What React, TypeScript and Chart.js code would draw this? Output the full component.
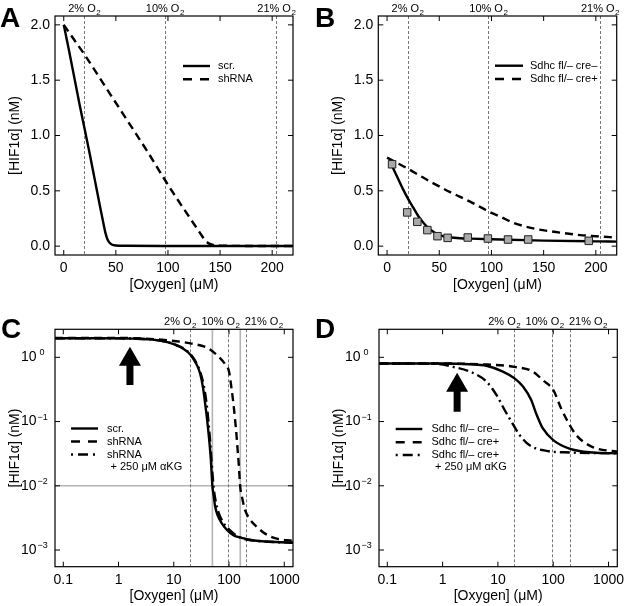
import React, { useEffect, useRef } from 'react';
import { Chart, registerables } from 'chart.js';
Chart.register(...registerables);

const FONT = '"Liberation Sans", Arial, Helvetica, sans-serif';

// ---------- shared ticks / labels ----------
const LIN_X_TICKS = [0, 50, 100, 150, 200];
const LIN_Y_TICKS = [0, 0.5, 1.0, 1.5, 2.0];
const LIN_Y_TICK_LABELS = ['0.0', '0.5', '1.0', '1.5', '2.0'];
const LOG_X_TICKS = [0.1, 1, 10, 100, 1000];
const LOG_X_TICK_LABELS = ['0.1', '1', '10', '100', '1000'];
const LOG_Y_TICKS = [1, 0.1, 0.01, 0.001];
const LOG_Y_EXPONENTS = ['0', '−1', '−2', '−3'];
const O2_LEVELS_UM = [19.6, 97, 204];
const O2_LABELS = ['2%', '10%', '21%'];
const O2_LABEL_ANCHORS_LOG = [13, 70, 425];
const X_TITLE = '[Oxygen] (μM)';
const Y_TITLE = '[HIF1α] (nM)';

// ---------- panel A ----------
const A_SCR_X = [0, 5, 10, 15, 20, 25, 30, 35, 38, 40, 42, 44, 46, 50, 60, 100, 220];
const A_SCR_Y = [2.0, 1.77, 1.53, 1.29, 1.06, 0.83, 0.59, 0.35, 0.21, 0.12, 0.06, 0.03, 0.015, 0.006, 0.003, 0.0015, 0.001];
const A_SH_X = [0, 10, 20, 40, 60, 80, 97, 110, 120, 130, 136, 140, 145, 150, 160, 200, 220];
const A_SH_Y = [2.0, 1.865, 1.73, 1.44, 1.15, 0.86, 0.6, 0.41, 0.27, 0.13, 0.05, 0.02, 0.008, 0.005, 0.003, 0.0015, 0.0012];

// ---------- panel B ----------
const B_EXP_X = [4.8, 19.3, 29, 38.6, 48.3, 58, 77.3, 96.6, 115.9, 135.2, 193.2];
const B_EXP_Y = [0.74, 0.305, 0.22, 0.145, 0.09, 0.075, 0.078, 0.069, 0.06, 0.06, 0.048];
const B_NEG_X = [5, 10, 15, 20, 25, 30, 35, 40, 45, 50, 55, 60, 70, 80, 100, 150, 200, 220];
const B_NEG_Y = [0.72, 0.62, 0.52, 0.43, 0.35, 0.27, 0.21, 0.16, 0.125, 0.1, 0.088, 0.08, 0.072, 0.068, 0.062, 0.05, 0.043, 0.041];
const B_POS_X = [0, 10, 20, 30, 40, 50, 60, 70, 80, 90, 100, 110, 120, 140, 160, 185, 200, 220];
const B_POS_Y = [0.8, 0.75, 0.7, 0.645, 0.59, 0.54, 0.49, 0.445, 0.4, 0.35, 0.3, 0.26, 0.215, 0.16, 0.13, 0.1, 0.09, 0.078];

// ---------- panel C ----------
const C_SCR_X = [0.0708, 0.3, 1, 2, 3.7, 6, 10, 15, 20, 25, 30, 34, 37, 40, 42, 45, 47, 50, 53, 56, 62, 74, 90, 120, 170, 240, 400, 700, 1440];
const C_SCR_Y = [1.98, 1.98, 1.97, 1.95, 1.9, 1.8, 1.6, 1.35, 1.1, 0.82, 0.56, 0.33, 0.19, 0.11, 0.074, 0.04, 0.025, 0.01, 0.0068, 0.0048, 0.0035, 0.0026, 0.0021, 0.0017, 0.00155, 0.00143, 0.00137, 0.00133, 0.0013];
const C_SH_X = [0.0708, 1, 3, 7.5, 20, 42, 65, 85, 100, 112, 122, 129, 136, 142, 150, 159, 175, 195, 240, 318, 450, 735, 1440];
const C_SH_Y = [2.0, 2.0, 1.96, 1.84, 1.65, 1.38, 1.02, 0.78, 0.6, 0.31, 0.17, 0.105, 0.065, 0.04, 0.022, 0.01, 0.0062, 0.0042, 0.003, 0.0023, 0.0018, 0.0015, 0.00139];
const C_AKG_X = [0.0708, 1, 3.7, 10, 20, 30, 35, 39, 42, 44, 47, 50, 53, 58, 65, 78, 100, 150, 300, 1440];
const C_AKG_Y = [1.98, 1.97, 1.9, 1.6, 1.12, 0.6, 0.36, 0.2, 0.11, 0.07, 0.035, 0.016, 0.009, 0.0055, 0.0038, 0.0027, 0.0021, 0.0016, 0.0014, 0.0013];

// ---------- panel D ----------
const D_NEG_X = [0.0708, 1, 3, 6.2, 12.3, 20, 28.4, 40, 49, 65, 100, 196, 517, 1440];
const D_NEG_Y = [0.8, 0.8, 0.78, 0.74, 0.6, 0.47, 0.35, 0.216, 0.134, 0.078, 0.0515, 0.038, 0.033, 0.032];
const D_POS_X = [0.0708, 1, 5, 20, 43, 65, 100, 139, 183, 259, 517, 1440];
const D_POS_Y = [0.8, 0.8, 0.78, 0.71, 0.6, 0.44, 0.31, 0.16, 0.1, 0.062, 0.04, 0.034];
const D_AKG_X = [0.0708, 0.8, 1.55, 3.1, 6.2, 9.4, 13.3, 17.5, 24.6, 37, 75, 200, 1440];
const D_AKG_Y = [0.8, 0.79, 0.71, 0.6, 0.42, 0.26, 0.15, 0.1, 0.062, 0.043, 0.035, 0.033, 0.032];

type Style = 'solid' | 'dash' | 'dashdot';
type Series = { label: string; x: number[]; y: number[]; style: Style };
type Panel = {
  letter: string;
  box: { left: number; top: number; w: number; h: number };
  pad: { left: number; top: number; right: number; bottom: number };
  letterPos: { x: number; y: number };
  log: boolean;
  xRange: [number, number];
  yRange: [number, number];
  series: Series[];
  squares?: { x: number[]; y: number[] };
  legend: { x0: number; x1: number; tx: number; rows: number[] };
  topAnchors: number[];
  arrow?: { x: number; tip: number; tail: number };
  grayV?: number[];
  grayH?: number[];
};

const LIN_X: [number, number] = [-8.4, 220];
const LIN_Y: [number, number] = [-0.08, 2.08];
const LOG_X: [number, number] = [0.0708, 1440];
const LOG_Y: [number, number] = [0.00055, 2.73];

const PANELS: Panel[] = [
  {
    letter: 'A', box: { left: 0, top: 0, w: 313, h: 300 },
    pad: { left: 55, top: 16, right: 20, bottom: 45 }, letterPos: { x: 0, y: 27 },
    log: false, xRange: LIN_X, yRange: LIN_Y,
    series: [
      { label: 'scr.', x: A_SCR_X, y: A_SCR_Y, style: 'solid' },
      { label: 'shRNA', x: A_SH_X, y: A_SH_Y, style: 'dash' },
    ],
    legend: { x0: 128, x1: 155, tx: 163, rows: [50, 63.3] },
    topAnchors: O2_LEVELS_UM,
  },
  {
    letter: 'B', box: { left: 313, top: 0, w: 314, h: 300 },
    pad: { left: 65.3, top: 16, right: 10.3, bottom: 45 }, letterPos: { x: 2, y: 27 },
    log: false, xRange: LIN_X, yRange: LIN_Y,
    series: [
      { label: 'Sdhc fl/– cre–', x: B_NEG_X, y: B_NEG_Y, style: 'solid' },
      { label: 'Sdhc fl/– cre+', x: B_POS_X, y: B_POS_Y, style: 'dash' },
    ],
    squares: { x: B_EXP_X, y: B_EXP_Y },
    legend: { x0: 116.7, x1: 144.7, tx: 151.7, rows: [49.7, 63] },
    topAnchors: O2_LEVELS_UM,
  },
  {
    letter: 'C', box: { left: 0, top: 300, w: 313, h: 306 },
    pad: { left: 55, top: 29.3, right: 20, bottom: 39.3 }, letterPos: { x: 1, y: 38 },
    log: true, xRange: LOG_X, yRange: LOG_Y,
    series: [
      { label: 'scr.', x: C_SCR_X, y: C_SCR_Y, style: 'solid' },
      { label: 'shRNA', x: C_SH_X, y: C_SH_Y, style: 'dash' },
      { label: 'shRNA\n+ 250 μM αKG', x: C_AKG_X, y: C_AKG_Y, style: 'dashdot' },
    ],
    legend: { x0: 16, x1: 43, tx: 52, rows: [99.2, 112.2, 125.2] },
    topAnchors: O2_LABEL_ANCHORS_LOG,
    arrow: { x: 1.61, tip: 1.46, tail: 0.37 },
    grayV: [50, 160],
    grayH: [0.01],
  },
  {
    letter: 'D', box: { left: 313, top: 300, w: 314, h: 306 },
    pad: { left: 66, top: 29.3, right: 9.7, bottom: 39.3 }, letterPos: { x: 2, y: 38 },
    log: true, xRange: LOG_X, yRange: LOG_Y,
    series: [
      { label: 'Sdhc fl/– cre–', x: D_NEG_X, y: D_NEG_Y, style: 'solid' },
      { label: 'Sdhc fl/– cre+', x: D_POS_X, y: D_POS_Y, style: 'dash' },
      { label: 'Sdhc fl/– cre+\n+ 250 μM αKG', x: D_AKG_X, y: D_AKG_Y, style: 'dashdot' },
    ],
    legend: { x0: 16.7, x1: 43.3, tx: 52.5, rows: [99.7, 113, 125.7] },
    topAnchors: O2_LABEL_ANCHORS_LOG,
    arrow: { x: 1.83, tip: 0.575, tail: 0.142 },
  },
];

const LINE_W = 2.4;
function dashFor(s: Style): number[] {
  if (s === 'dash') return [8, 5];
  if (s === 'dashdot') return [10, 4, 2, 4];
  return [];
}
function legendDash(s: Style): number[] {
  if (s === 'dash') return [9, 8];
  if (s === 'dashdot') return [2, 5, 10, 5];
  return [];
}

function seg(ctx: CanvasRenderingContext2D, x0: number, y0: number, x1: number, y1: number) {
  ctx.beginPath();
  ctx.moveTo(x0, y0);
  ctx.lineTo(x1, y1);
  ctx.stroke();
}

function makeDecor(p: Panel) {
  return {
    id: 'decor' + p.letter,
    beforeDatasetsDraw(chart: any) {
      const { ctx, chartArea: a, scales } = chart;
      const xs = scales.x;
      const ys = scales.y;
      ctx.save();
      ctx.beginPath();
      ctx.rect(a.left, a.top, a.right - a.left, a.bottom - a.top);
      ctx.clip();
      ctx.strokeStyle = '#b4b4b4';
      ctx.lineWidth = 1.6;
      ctx.setLineDash([]);
      (p.grayV || []).forEach((v) => {
        const x = xs.getPixelForValue(v);
        seg(ctx, x, a.top, x, a.bottom);
      });
      (p.grayH || []).forEach((v) => {
        const y = ys.getPixelForValue(v);
        seg(ctx, a.left, y, a.right, y);
      });
      ctx.strokeStyle = '#555';
      ctx.lineWidth = 0.8;
      ctx.setLineDash([3, 2]);
      O2_LEVELS_UM.forEach((v) => {
        const x = Math.round(xs.getPixelForValue(v)) + 0.5;
        seg(ctx, x, a.top, x, a.bottom);
      });
      ctx.restore();
    },
    afterDatasetsDraw(chart: any) {
      const { ctx, chartArea: a, scales } = chart;
      const xs = scales.x;
      const ys = scales.y;
      ctx.save();
      ctx.fillStyle = '#000';
      ctx.strokeStyle = '#000';
      ctx.setLineDash([]);

      // arrow
      if (p.arrow) {
        const ax = xs.getPixelForValue(p.arrow.x);
        const ty = ys.getPixelForValue(p.arrow.tip);
        const by = ys.getPixelForValue(p.arrow.tail);
        const hl = 19, hw = 11, sw = 3.5;
        ctx.beginPath();
        ctx.moveTo(ax, ty);
        ctx.lineTo(ax + hw, ty + hl);
        ctx.lineTo(ax + sw, ty + hl);
        ctx.lineTo(ax + sw, by);
        ctx.lineTo(ax - sw, by);
        ctx.lineTo(ax - sw, ty + hl);
        ctx.lineTo(ax - hw, ty + hl);
        ctx.closePath();
        ctx.fill();
      }

      // frame
      ctx.lineWidth = 1.2;
      ctx.strokeRect(a.left, a.top, a.right - a.left, a.bottom - a.top);

      // ticks (inward, mirrored)
      const xT = p.log ? LOG_X_TICKS : LIN_X_TICKS;
      const yT = p.log ? LOG_Y_TICKS : LIN_Y_TICKS;
      const TL = 5;
      ctx.lineWidth = 1;
      xT.forEach((v) => {
        const x = xs.getPixelForValue(v);
        seg(ctx, x, a.bottom, x, a.bottom - TL);
        seg(ctx, x, a.top, x, a.top + TL);
      });
      yT.forEach((v) => {
        const y = ys.getPixelForValue(v);
        seg(ctx, a.left, y, a.left + TL, y);
        seg(ctx, a.right, y, a.right - TL, y);
      });

      // x tick labels
      ctx.font = `14px ${FONT}`;
      ctx.textAlign = 'center';
      ctx.textBaseline = 'alphabetic';
      const xl = p.log ? LOG_X_TICK_LABELS : LIN_X_TICKS.map(String);
      xT.forEach((v, i) => {
        ctx.fillText(xl[i], xs.getPixelForValue(v), a.bottom + 17);
      });

      // y tick labels
      if (!p.log) {
        ctx.textAlign = 'right';
        ctx.textBaseline = 'middle';
        LIN_Y_TICKS.forEach((v, i) => {
          ctx.fillText(LIN_Y_TICK_LABELS[i], a.left - 5, ys.getPixelForValue(v));
        });
      } else {
        LOG_Y_TICKS.forEach((v, i) => {
          const y = ys.getPixelForValue(v);
          const x0 = a.left - 34;
          ctx.font = `14px ${FONT}`;
          ctx.textAlign = 'left';
          ctx.textBaseline = 'middle';
          ctx.fillText('10', x0, y);
          const w = ctx.measureText('10').width;
          ctx.font = `9px ${FONT}`;
          ctx.textBaseline = 'alphabetic';
          const exp = LOG_Y_EXPONENTS[i];
          ctx.fillText(exp, x0 + w + (exp.length === 1 ? 3 : 1), y - 2);
        });
      }

      // axis titles
      ctx.font = `14px ${FONT}`;
      ctx.textAlign = 'center';
      ctx.textBaseline = 'alphabetic';
      ctx.fillText(X_TITLE, (a.left + a.right) / 2, a.bottom + 33.5);
      ctx.save();
      ctx.translate(a.left - 40, (a.top + a.bottom) / 2);
      ctx.rotate(-Math.PI / 2);
      ctx.textBaseline = 'middle';
      ctx.fillText(Y_TITLE, 0, 0);
      ctx.restore();

      // top O2 labels
      p.topAnchors.forEach((v, i) => {
        const cx = xs.getPixelForValue(v);
        const main = `${O2_LABELS[i]} O`;
        ctx.font = `11px ${FONT}`;
        const w1 = ctx.measureText(main).width;
        ctx.font = `8px ${FONT}`;
        const w2 = ctx.measureText('2').width;
        const sx = cx - (w1 + w2) / 2;
        ctx.textAlign = 'left';
        ctx.textBaseline = 'alphabetic';
        ctx.font = `11px ${FONT}`;
        ctx.fillText(main, sx, a.top - 4);
        ctx.font = `8px ${FONT}`;
        ctx.fillText('2', sx + w1 + 0.5, a.top - 1.5);
      });

      // legend
      ctx.font = `11px ${FONT}`;
      ctx.textAlign = 'left';
      ctx.textBaseline = 'middle';
      p.series.forEach((s, i) => {
        const y = a.top + p.legend.rows[i];
        ctx.save();
        ctx.lineWidth = LINE_W;
        ctx.setLineDash(legendDash(s.style));
        seg(ctx, a.left + p.legend.x0, y, a.left + p.legend.x1, y);
        ctx.restore();
        const parts = s.label.split('\n');
        ctx.fillText(parts[0], a.left + p.legend.tx, y);
        if (parts[1]) ctx.fillText(parts[1], a.left + p.legend.tx + 3.5, y + 12.2);
      });

      // panel letter
      ctx.font = `bold 28px ${FONT}`;
      ctx.textAlign = 'left';
      ctx.textBaseline = 'alphabetic';
      ctx.fillText(p.letter, p.letterPos.x, p.letterPos.y);
      ctx.restore();
    },
  };
}

function buildConfig(p: Panel): any {
  const datasets: any[] = [];
  if (p.squares) {
    datasets.push({
      type: 'scatter',
      label: 'data',
      data: p.squares.x.map((x, i) => ({ x, y: p.squares!.y[i] })),
      pointStyle: 'rect',
      pointRadius: 5.3,
      backgroundColor: '#a9a9a9',
      borderColor: '#222',
      borderWidth: 1,
      showLine: false,
    });
  }
  p.series.forEach((s) => {
    datasets.push({
      type: 'line',
      label: s.label,
      data: s.x.map((x, i) => ({ x, y: s.y[i] })),
      borderColor: '#000',
      borderWidth: LINE_W,
      borderDash: dashFor(s.style),
      pointRadius: 0,
      fill: false,
      cubicInterpolationMode: 'monotone',
    });
  });
  return {
    type: 'line',
    data: { datasets },
    options: {
      animation: false,
      responsive: false,
      devicePixelRatio: 1,
      layout: { padding: p.pad },
      plugins: { legend: { display: false }, tooltip: { enabled: false } },
      scales: {
        x: { type: p.log ? 'logarithmic' : 'linear', min: p.xRange[0], max: p.xRange[1], display: false },
        y: { type: p.log ? 'logarithmic' : 'linear', min: p.yRange[0], max: p.yRange[1], display: false },
      },
    },
    plugins: [makeDecor(p)],
  };
}

function PanelChart({ p }: { p: Panel }) {
  const ref = useRef<HTMLCanvasElement>(null);
  useEffect(() => {
    const chart = new Chart(ref.current as HTMLCanvasElement, buildConfig(p));
    return () => chart.destroy();
  }, [p]);
  return (
    <canvas
      ref={ref}
      width={p.box.w}
      height={p.box.h}
      style={{ position: 'absolute', left: p.box.left, top: p.box.top, width: p.box.w, height: p.box.h }}
    />
  );
}

export default function App() {
  return (
    <div style={{ position: 'absolute', left: 0, top: 0, width: 627, height: 606, background: '#fff', overflow: 'hidden' }}>
      {PANELS.map((p) => (
        <PanelChart key={p.letter} p={p} />
      ))}
    </div>
  );
}
